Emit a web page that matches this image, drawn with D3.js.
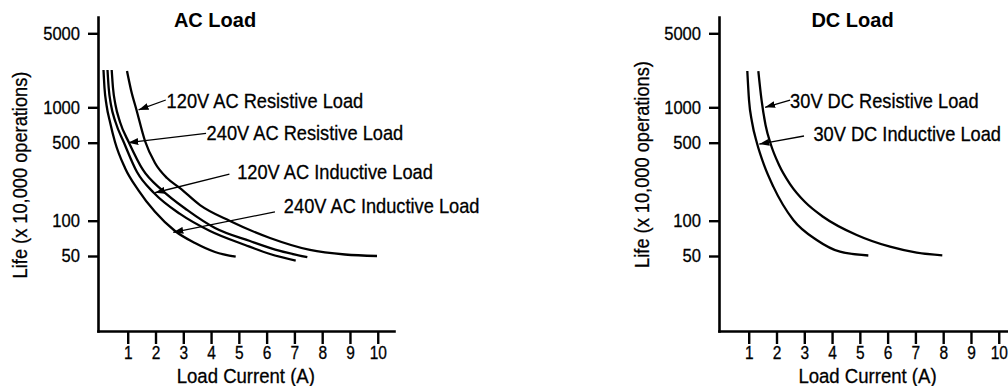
<!DOCTYPE html>
<html><head><meta charset="utf-8">
<script src="https://cdn.jsdelivr.net/npm/d3@7"></script>
<style>
body{margin:0;background:#fff}
svg{display:block}
text{font-family:"Liberation Sans",Arial,Helvetica,sans-serif;fill:#000}
text.reg{stroke:#000;stroke-width:0.3px}
</style></head>
<body><svg id="c" width="1008" height="386"></svg>
<script>
// ---------- data ----------
const xTicks = [1,2,3,4,5,6,7,8,9,10];
const yTicks = [50,100,500,1000,5000];
const xTitle = "Load Current (A)";
const yTitle = "Life (x 10,000 operations)";
const acTitle = "AC Load";
const dcTitle = "DC Load";

const ac120ResX = [0.974,1.118,1.316,1.622,1.982,2.414,2.882,3.602,4.681,6.121,7.561,8.821,9.973];
const ac120ResY = [2200,1458,949,517,329,241,196,138,99.4,71.2,56.3,51.5,50];
const ac240ResX = [0.423,0.470,0.560,0.722,1.046,1.550,2.234,3.134,4.142,5.402,6.482,7.465];
const ac240ResY = [2250,1522,1052,750,500,285,188,125,86.7,67.1,55.2,48.8];
const ac120IndX = [0.272,0.315,0.398,0.560,0.866,1.334,1.946,2.882,3.962,5.222,6.122,7.047];
const ac120IndY = [2250,1522,1052,750,500,273,177,115,81.7,62.1,52,45.6];
const ac240IndX = [0.128,0.164,0.236,0.362,0.542,0.902,1.381,1.982,2.702,3.422,4.142,4.887];
const ac240IndY = [2250,1522,1052,750,507,297,188,120,81.7,64.5,54.1,49.3];
const dc30ResX = [1.346,1.461,1.605,1.802,2.091,2.487,3.027,3.675,4.887,6.086,7.047,7.968];
const dc30ResY = [2200,1173,707,477,316,213,147,108.6,75.5,60,53.4,50.7];
const dc30IndX = [0.949,1.010,1.118,1.298,1.550,1.885,2.605,3.447,4.286,5.305];
const dc30IndY = [2200,1173,750,494,316,202,101.5,68.5,54.4,50.5];

// annotation labels: text anchor, line start and arrow tip (data coords)
const acNotes = [
  {label:"120V AC Resistive Load", tx:2.40, ty:980,  sx:2.37, sy:1172, ex:1.39, ey:950},
  {label:"240V AC Resistive Load", tx:3.84, ty:527,  sx:3.82, sy:601,  ex:1.02, ey:500},
  {label:"120V AC Inductive Load", tx:4.94, ty:237,  sx:4.66, sy:262,  ex:1.98, ey:178},
  {label:"240V AC Inductive Load", tx:6.62, ty:116.5,sx:6.30, sy:120,  ex:2.64, ey:79.6}
];
const dcNotes = [
  {label:"30V DC Resistive Load", tx:2.49, ty:980, sx:2.49, sy:1172, ex:1.59, ey:1000},
  {label:"30V DC Inductive Load", tx:3.33, ty:520, sx:2.99, sy:570,  ex:1.38, ey:486}
];

// ---------- drawing ----------
const svg = d3.select("#c");
const defs = svg.append("defs");
defs.append("marker").attr("id","arr")
  .attr("markerUnits","userSpaceOnUse")
  .attr("markerWidth",11).attr("markerHeight",7)
  .attr("refX",10).attr("refY",3.5).attr("orient","auto")
  .append("path").attr("d","M0,0 L10,3.5 L0,7 Z").attr("fill","#000");

function condense(sel, f){
  sel.each(function(){
    const w = this.getComputedTextLength();
    d3.select(this).attr("textLength", w*f).attr("lengthAdjust","spacingAndGlyphs");
  });
}

function panel(o){
  const g = svg.append("g");
  const x = d3.scaleLinear().domain([-0.07, 10.585]).range([o.left, o.left+296]);
  const y = d3.scaleLog()
    .domain([11.5,50,100,500,1000,5000,7100])
    .range([331,256,220.7,142.7,107.3,33.3,17]);

  const xa = g.append("g").attr("transform","translate(0,331)")
    .call(d3.axisBottom(x).tickValues(xTicks).tickFormat(d3.format("d"))
      .tickSize(13).tickSizeOuter(0).tickPadding(2));
  const ya = g.append("g").attr("transform",`translate(${x.range()[0]},0)`)
    .call(d3.axisLeft(y).tickValues(yTicks).tickFormat(d3.format("d"))
      .tickSize(10).tickSizeOuter(0).tickPadding(8));
  [xa,ya].forEach(a=>{
    a.attr("font-family",null).attr("font-size",null);
    a.selectAll("path.domain").attr("stroke","#000").attr("stroke-width",2.6).attr("stroke-linecap","square");
    a.selectAll(".tick line").attr("stroke","#000").attr("stroke-width",2.4);
    a.selectAll(".tick text").attr("class","reg").attr("font-size",18).attr("fill","#000");
  });
  condense(xa.selectAll(".tick text"), 0.86);
  condense(ya.selectAll(".tick text"), 0.92);

  g.append("text").attr("x",o.titleX).attr("y",27.3).attr("text-anchor","middle")
    .attr("font-weight","bold").attr("font-size",20).text(o.title);

  g.append("text").attr("class","reg")
    .attr("transform",`translate(${o.xTitleX},382.5) scale(0.905,1)`)
    .attr("text-anchor","middle").attr("font-size",20.5).text(xTitle);
  g.append("text").attr("class","reg")
    .attr("transform",`translate(${o.yLabelX},${o.yLabelY}) rotate(-90) scale(0.89,1)`)
    .attr("text-anchor","middle").attr("font-size",20.5).text(yTitle);

  const line = d3.line().x(d=>x(d[0])).y(d=>y(d[1])).curve(d3.curveMonotoneX);
  o.series.forEach(s=>{
    g.append("path").datum(d3.zip(s[0], s[1])).attr("d",line)
      .attr("fill","none").attr("stroke","#000").attr("stroke-width",2.3);
  });

  o.notes.forEach(n=>{
    g.append("line").attr("x1",x(n.sx)).attr("y1",y(n.sy)).attr("x2",x(n.ex)).attr("y2",y(n.ey))
      .attr("stroke","#000").attr("stroke-width",1.3).attr("marker-end","url(#arr)");
    g.append("text").attr("class","reg")
      .attr("transform",`translate(${x(n.tx)},${y(n.ty)}) scale(0.89,1)`)
      .attr("font-size",20.5).text(n.label);
  });
}

panel({left:98, title:acTitle, titleX:215, xTitleX:245.8, yLabelX:27, yLabelY:175,
  series:[[ac120ResX,ac120ResY],[ac240ResX,ac240ResY],[ac120IndX,ac120IndY],[ac240IndX,ac240IndY]],
  notes:acNotes});
panel({left:719, title:dcTitle, titleX:852.5, xTitleX:867.5, yLabelX:649, yLabelY:164.5,
  series:[[dc30ResX,dc30ResY],[dc30IndX,dc30IndY]],
  notes:dcNotes});
</script></body></html>
